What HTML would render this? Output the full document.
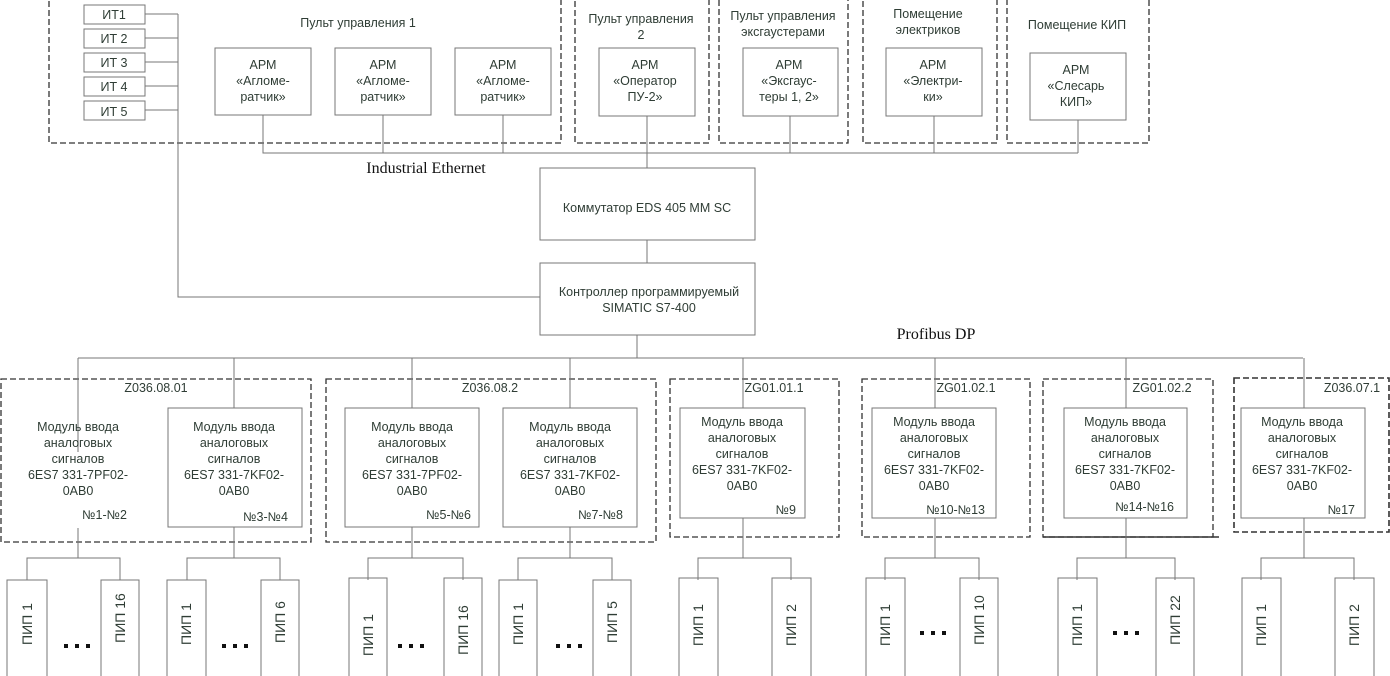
<!DOCTYPE html>
<html><head><meta charset="utf-8"><style>
html,body{margin:0;padding:0;background:#fff;}
svg{display:block;}
text{font-family:"Liberation Sans",sans-serif;font-size:12.5px;fill:#2f3d35;}
.s{font-family:"Liberation Serif",serif;font-size:16px;fill:#111;}
</style></head><body>
<svg width="1390" height="676" viewBox="0 0 1390 676" xmlns="http://www.w3.org/2000/svg">
<g fill="none" stroke="#333" stroke-width="1.3" stroke-dasharray="6,3">
<rect x="49" y="-2" width="512" height="145"/>
<rect x="575" y="-2" width="134" height="145"/>
<rect x="719" y="-2" width="129" height="145"/>
<rect x="863" y="-2" width="134" height="145"/>
<rect x="1007" y="-2" width="142" height="145"/>
<rect x="1" y="379" width="310" height="163"/>
<rect x="326" y="379" width="330" height="163"/>
<rect x="670" y="379" width="169" height="158"/>
<rect x="862" y="379" width="168" height="158"/>
<rect x="1043" y="379" width="170" height="158"/>
<rect x="1234" y="378" width="155" height="154" stroke-width="1.6"/>
</g>
<line x1="1043" y1="537" x2="1219" y2="537" stroke="#333" stroke-width="1.5"/>
<g fill="none" stroke="#777" stroke-width="1">
<rect x="84" y="5" width="61" height="19"/>
<rect x="84" y="29" width="61" height="19"/>
<rect x="84" y="53" width="61" height="19"/>
<rect x="84" y="77" width="61" height="19"/>
<rect x="84" y="101" width="61" height="19"/>
<path d="M145 14H178M145 38H178M145 62H178M145 86H178M145 110H178M178 14V297H540"/>
<rect x="215" y="48" width="96" height="67"/>
<rect x="335" y="48" width="96" height="67"/>
<rect x="455" y="48" width="96" height="67"/>
<rect x="599" y="48" width="96" height="68"/>
<rect x="743" y="48" width="95" height="68"/>
<rect x="886" y="48" width="96" height="68"/>
<rect x="1030" y="53" width="96" height="67"/>
<path d="M263 115V153H1078M383 115V153M503 115V153M647 116V168M790 116V153M934 116V153M1078 120V153"/>
<rect x="540" y="168" width="215" height="72"/>
<rect x="540" y="263" width="215" height="72"/>
<path d="M647 240V263M637 335V358M78 358H1303"/>
<path d="M78 358V452M234 358V408M412 358V408M570 358V408M743 358V408M935 358V408M1126 358V408M1304 358V408"/>
<rect x="168" y="408" width="134" height="119"/>
<rect x="345" y="408" width="134" height="119"/>
<rect x="503" y="408" width="134" height="119"/>
<rect x="680" y="408" width="125" height="110"/>
<rect x="872" y="408" width="124" height="110"/>
<rect x="1064" y="408" width="123" height="110"/>
<rect x="1241" y="408" width="124" height="110"/>
<path d="M78 528V558M234 527V558M412 527V558M570 527V558M743 518V558M935 518V558M1126 518V558M1304 518V558"/>
<path d="M27 580V558H120V580M187 580V558H280V580M368 580V558H463V580M518 580V558H612V580M698 580V558H791V580M885 580V558H979V580M1077 580V558H1175V580M1261 580V558H1354V580"/>
<rect x="7" y="580" width="40" height="100"/><rect x="101" y="580" width="38" height="100"/>
<rect x="167" y="580" width="39" height="100"/><rect x="261" y="580" width="38" height="100"/>
<rect x="349" y="578" width="38" height="100"/><rect x="444" y="578" width="38" height="100"/>
<rect x="499" y="580" width="38" height="100"/><rect x="593" y="580" width="38" height="100"/>
<rect x="679" y="578" width="39" height="100"/><rect x="772" y="578" width="39" height="100"/>
<rect x="866" y="578" width="39" height="100"/><rect x="960" y="578" width="38" height="100"/>
<rect x="1058" y="578" width="39" height="100"/><rect x="1156" y="578" width="38" height="100"/>
<rect x="1242" y="578" width="39" height="100"/><rect x="1335" y="578" width="39" height="100"/>
</g>
<g text-anchor="middle">
<text x="114" y="19">ИТ1</text><text x="114" y="43">ИТ 2</text><text x="114" y="67">ИТ 3</text><text x="114" y="91">ИТ 4</text><text x="114" y="116">ИТ 5</text>
<text x="358" y="27">Пульт управления 1</text>
<text x="263" y="69">АРМ</text><text x="263" y="85">«Агломе-</text><text x="263" y="101">ратчик»</text>
<text x="383" y="69">АРМ</text><text x="383" y="85">«Агломе-</text><text x="383" y="101">ратчик»</text>
<text x="503" y="69">АРМ</text><text x="503" y="85">«Агломе-</text><text x="503" y="101">ратчик»</text>
<text x="641" y="23">Пульт управления</text><text x="641" y="39">2</text>
<text x="645" y="69">АРМ</text><text x="645" y="85">«Оператор</text><text x="645" y="101">ПУ-2»</text>
<text x="783" y="20">Пульт управления</text><text x="783" y="36">эксгаустерами</text>
<text x="789" y="69">АРМ</text><text x="789" y="85">«Эксгаус-</text><text x="789" y="101">теры 1, 2»</text>
<text x="928" y="18">Помещение</text><text x="928" y="34">электриков</text>
<text x="933" y="69">АРМ</text><text x="933" y="85">«Электри-</text><text x="933" y="101">ки»</text>
<text x="1077" y="29">Помещение КИП</text>
<text x="1076" y="74">АРМ</text><text x="1076" y="90">«Слесарь</text><text x="1076" y="106">КИП»</text>
<text x="647" y="212">Коммутатор EDS 405 MM SC</text>
<text x="649" y="296">Контроллер программируемый</text><text x="649" y="312">SIMATIC S7-400</text>
<text class="s" x="426" y="173">Industrial Ethernet</text>
<text class="s" x="936" y="339">Profibus DP</text>
<text x="156" y="392">Z036.08.01</text>
<text x="490" y="392">Z036.08.2</text>
<text x="774" y="392">ZG01.01.1</text>
<text x="966" y="392">ZG01.02.1</text>
<text x="1162" y="392">ZG01.02.2</text>
<text x="1352" y="392">Z036.07.1</text>
</g>
<g text-anchor="middle">
<text x="78" y="431">Модуль ввода</text><text x="78" y="447">аналоговых</text><text x="78" y="463">сигналов</text><text x="78" y="479">6ES7 331-7PF02-</text><text x="78" y="495">0AB0</text>
<text x="234" y="431">Модуль ввода</text><text x="234" y="447">аналоговых</text><text x="234" y="463">сигналов</text><text x="234" y="479">6ES7 331-7KF02-</text><text x="234" y="495">0AB0</text>
<text x="412" y="431">Модуль ввода</text><text x="412" y="447">аналоговых</text><text x="412" y="463">сигналов</text><text x="412" y="479">6ES7 331-7PF02-</text><text x="412" y="495">0AB0</text>
<text x="570" y="431">Модуль ввода</text><text x="570" y="447">аналоговых</text><text x="570" y="463">сигналов</text><text x="570" y="479">6ES7 331-7KF02-</text><text x="570" y="495">0AB0</text>
<text x="742" y="426">Модуль ввода</text><text x="742" y="442">аналоговых</text><text x="742" y="458">сигналов</text><text x="742" y="474">6ES7 331-7KF02-</text><text x="742" y="490">0AB0</text>
<text x="934" y="426">Модуль ввода</text><text x="934" y="442">аналоговых</text><text x="934" y="458">сигналов</text><text x="934" y="474">6ES7 331-7KF02-</text><text x="934" y="490">0AB0</text>
<text x="1125" y="426">Модуль ввода</text><text x="1125" y="442">аналоговых</text><text x="1125" y="458">сигналов</text><text x="1125" y="474">6ES7 331-7KF02-</text><text x="1125" y="490">0AB0</text>
<text x="1302" y="426">Модуль ввода</text><text x="1302" y="442">аналоговых</text><text x="1302" y="458">сигналов</text><text x="1302" y="474">6ES7 331-7KF02-</text><text x="1302" y="490">0AB0</text>
</g>
<g text-anchor="end">
<text x="127" y="519">№1-№2</text><text x="288" y="521">№3-№4</text><text x="471" y="519">№5-№6</text><text x="623" y="519">№7-№8</text>
<text x="796" y="514">№9</text><text x="985" y="514">№10-№13</text><text x="1174" y="511">№14-№16</text><text x="1355" y="514">№17</text>
</g>
<g text-anchor="middle" font-size="14">
<text transform="translate(32,624) rotate(-90)" style="font-size:14px">ПИП 1</text>
<text transform="translate(125,618) rotate(-90)" style="font-size:14px">ПИП 16</text>
<text transform="translate(191,624) rotate(-90)" style="font-size:14px">ПИП 1</text>
<text transform="translate(285,622) rotate(-90)" style="font-size:14px">ПИП 6</text>
<text transform="translate(373,635) rotate(-90)" style="font-size:14px">ПИП 1</text>
<text transform="translate(468,630) rotate(-90)" style="font-size:14px">ПИП 16</text>
<text transform="translate(523,624) rotate(-90)" style="font-size:14px">ПИП 1</text>
<text transform="translate(617,622) rotate(-90)" style="font-size:14px">ПИП 5</text>
<text transform="translate(703,625) rotate(-90)" style="font-size:14px">ПИП 1</text>
<text transform="translate(796,625) rotate(-90)" style="font-size:14px">ПИП 2</text>
<text transform="translate(890,625) rotate(-90)" style="font-size:14px">ПИП 1</text>
<text transform="translate(984,620) rotate(-90)" style="font-size:14px">ПИП 10</text>
<text transform="translate(1082,625) rotate(-90)" style="font-size:14px">ПИП 1</text>
<text transform="translate(1180,620) rotate(-90)" style="font-size:14px">ПИП 22</text>
<text transform="translate(1266,625) rotate(-90)" style="font-size:14px">ПИП 1</text>
<text transform="translate(1359,625) rotate(-90)" style="font-size:14px">ПИП 2</text>
</g>
<g fill="#111">
<rect x="64" y="644" width="4" height="4"/><rect x="75" y="644" width="4" height="4"/><rect x="86" y="644" width="4" height="4"/>
<rect x="222" y="644" width="4" height="4"/><rect x="233" y="644" width="4" height="4"/><rect x="244" y="644" width="4" height="4"/>
<rect x="398" y="644" width="4" height="4"/><rect x="409" y="644" width="4" height="4"/><rect x="420" y="644" width="4" height="4"/>
<rect x="556" y="644" width="4" height="4"/><rect x="567" y="644" width="4" height="4"/><rect x="578" y="644" width="4" height="4"/>
<rect x="920" y="631" width="4" height="4"/><rect x="931" y="631" width="4" height="4"/><rect x="942" y="631" width="4" height="4"/>
<rect x="1113" y="631" width="4" height="4"/><rect x="1124" y="631" width="4" height="4"/><rect x="1135" y="631" width="4" height="4"/>
</g>
</svg>
</body></html>
